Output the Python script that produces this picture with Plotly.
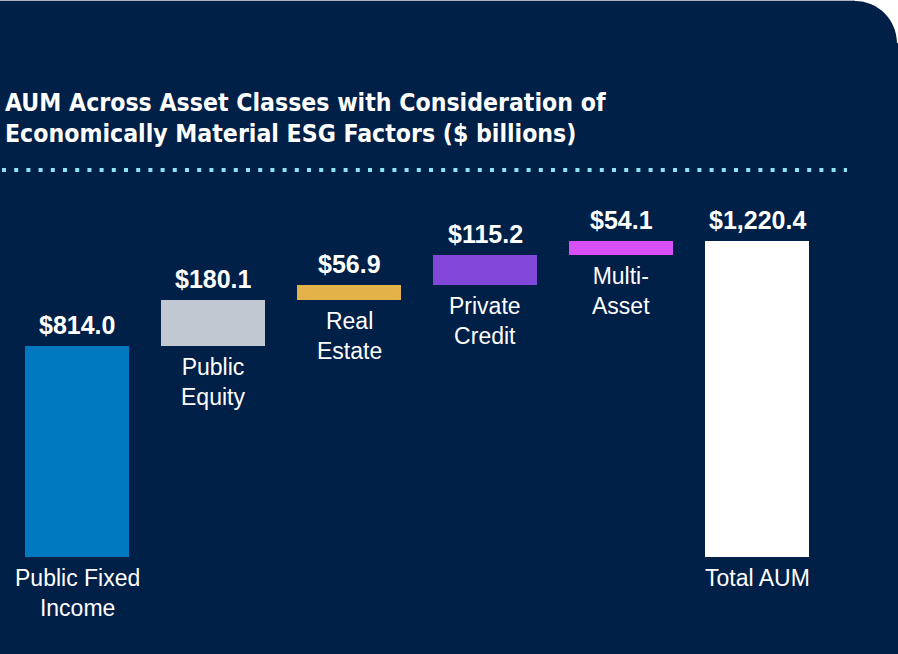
import plotly.graph_objects as go

categories = ["Public Fixed<br>Income", "Public<br>Equity", "Real<br>Estate",
              "Private<br>Credit", "Multi-<br>Asset", "Total AUM"]
values = [814.0, 180.1, 56.9, 115.2, 54.1, 1220.4]
value_labels = ["$814.0", "$180.1", "$56.9", "$115.2", "$54.1", "$1,220.4"]
is_total = [False, False, False, False, False, True]
colors = ["#0079c1", "#c2c8d1", "#e3b349", "#8147d8", "#d94ff6", "#ffffff"]

title_lines = ["AUM Across Asset Classes with Consideration of",
               "Economically Material ESG Factors ($ billions)"]

BG = "#002048"
W, H = 898, 654
ML, MR, MT, MB = 9, 73, 200, 97
PW, PH = W - ML - MR, H - MT - MB
YMAX = 1378.7

# running bases for the waterfall
bases = []
run = 0.0
for v, t in zip(values, is_total):
    if t:
        bases.append(0.0)
    else:
        bases.append(run)
        run += v

xs = list(range(len(categories)))

fig = go.Figure()
fig.add_trace(go.Bar(
    x=xs, y=values, base=bases, width=0.765,
    marker=dict(color=colors, line=dict(width=0)),
    hoverinfo="skip",
))

def px_x(px):
    return (px - ML) / PW

def px_y(py):
    return (H - MB - py) / PH

annotations = []
for i, (c, v, b, lab) in enumerate(zip(categories, values, bases, value_labels)):
    annotations.append(dict(
        x=i, y=b + v, xref="x", yref="y", text=lab, showarrow=False,
        xanchor="center", yanchor="bottom", yshift=5,
        font=dict(family="Liberation Sans", size=25, color="white", weight="bold"),
    ))
    annotations.append(dict(
        x=i, y=b, xref="x", yref="y", text=c, showarrow=False,
        xanchor="center", yanchor="top", yshift=-6,
        font=dict(family="Liberation Sans", size=23, color="white"),
    ))

for k, line in enumerate(title_lines):
    annotations.append(dict(
        x=px_x(3), y=px_y(119 + 31 * k), xref="paper", yref="paper",
        text=line, showarrow=False, xanchor="left", yanchor="bottom",
        font=dict(family="DejaVu Sans Condensed, Liberation Sans", size=24.6,
                  color="white", weight="bold"),
    ))

kq = 0.5523
r = 42
cx, cy = 855, 43
def P(px, py):
    return f"{px_x(px):.5f},{px_y(py):.5f}"
corner = (f"M {P(cx, -1)} L {P(W + 1, -1)} L {P(W + 1, cy)} L {P(cx + r, cy)} "
          f"C {P(cx + r, cy - r * kq)} {P(cx + r * kq, cy - r)} {P(cx, cy - r)} Z")

shapes = [
    dict(type="path", xref="paper", yref="paper", path=corner,
         fillcolor="white", line=dict(width=0), layer="above"),
    dict(type="rect", xref="paper", yref="paper", x0=px_x(-1), x1=px_x(cx),
         y0=px_y(-1), y1=px_y(1), fillcolor="#aab2c2", line=dict(width=0)),
    dict(type="line", xref="paper", yref="paper", x0=px_x(2), x1=px_x(847),
         y0=px_y(170), y1=px_y(170),
         line=dict(color="#8fe3f2", width=4, dash="4px,8.2px")),
]

fig.update_layout(
    width=W, height=H,
    margin=dict(l=ML, r=MR, t=MT, b=MB, pad=0),
    paper_bgcolor=BG, plot_bgcolor=BG,
    showlegend=False,
    xaxis=dict(range=[-0.5, len(categories) - 0.5], visible=False, fixedrange=True),
    yaxis=dict(range=[0, YMAX], visible=False, fixedrange=True),
    annotations=annotations,
    shapes=shapes,
    bargap=0,
)

fig.write_html(
    "out.html",
    config={"displayModeBar": False},
    post_script="document.body.style.margin='0';document.body.style.overflow='hidden';",
)
